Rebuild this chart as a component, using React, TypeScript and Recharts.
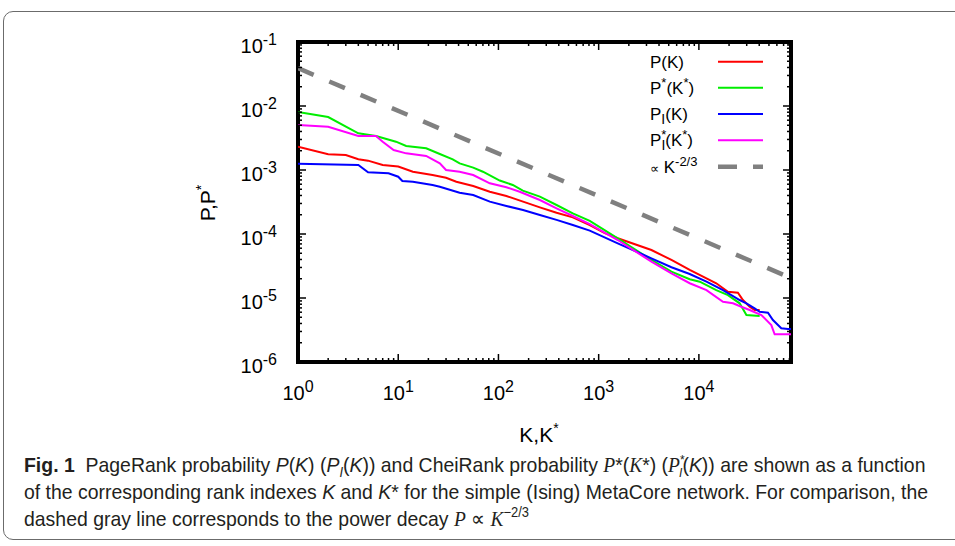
import React, { useLayoutEffect, useRef, useState } from "react"
import { LineChart, Line, XAxis, YAxis, ReferenceArea, Legend } from "recharts"

// P(K), PageRank
const kPageRank = [1, 2, 3, 4, 5, 7, 10, 14, 22, 30, 38, 56, 82, 120, 176, 259, 380, 552, 815, 1150, 1550, 3360, 5320, 8100, 11000, 14900, 19500, 24500, 27500, 32100, 36000, 40400]
const pPageRank = [0.00231, 0.00176, 0.00171, 0.00147, 0.0014, 0.0012, 0.00113, 0.00094, 0.000835, 0.000758, 0.000657, 0.000562, 0.000458, 0.000393, 0.00032, 0.000261, 0.000215, 0.000182, 0.000138, 0.000103, 8.57e-5, 5.62e-5, 3.93e-5, 2.74e-5, 2.15e-5, 1.7e-5, 1.25e-5, 1.21e-5, 9.3e-6, 7.31e-6, 6.49e-6, 6.49e-6]

// P*(K*), CheiRank
const kCheiRank = [1, 2, 4, 6, 9.5, 12, 19, 26, 35, 41, 56, 70, 103, 139, 175, 259, 380, 552, 815, 1550, 3360, 5320, 8100, 10200, 14900, 19500, 25500, 29800, 40400]
const pCheiRank = [0.00805, 0.00673, 0.00374, 0.0034, 0.00277, 0.00237, 0.00218, 0.00178, 0.00147, 0.00127, 0.00109, 0.00094, 0.000685, 0.000583, 0.000475, 0.000383, 0.000284, 0.00021, 0.00016, 8.57e-5, 3.93e-5, 2.58e-5, 1.96e-5, 1.8e-5, 1.33e-5, 1.11e-5, 8.26e-6, 5.42e-6, 5.23e-6]

// P_I(K)
const kPageRankI = [1, 4, 5, 8, 10, 11, 14, 22, 26, 41, 56, 82, 120, 176, 259, 380, 552, 815, 1550, 3360, 5320, 8100, 11900, 17400, 25500, 29800, 36000, 40400, 48900, 54800, 66400, 77300, 83000]
const pPageRankI = [0.00125, 0.0012, 0.00092, 0.000887, 0.000785, 0.000673, 0.000657, 0.000583, 0.000548, 0.000442, 0.000407, 0.00032, 0.000274, 0.000237, 0.000198, 0.000166, 0.000138, 0.000113, 7.16e-5, 4.17e-5, 3.02e-5, 2.37e-5, 1.8e-5, 1.33e-5, 9.3e-6, 8.26e-6, 6.9e-6, 6.1e-6, 5.89e-6, 4.53e-6, 3.36e-6, 3.28e-6, 3.28e-6]

// P*_I(K*)
const kCheiRankI = [1, 2, 4, 6, 7, 9, 12, 19, 26, 30, 41, 56, 82, 120, 163, 259, 380, 552, 815, 1550, 3360, 5320, 8100, 11900, 17400, 21900, 26500, 32100, 42000, 52800, 57000, 83000]
const pCheiRankI = [0.00505, 0.00475, 0.0034, 0.0034, 0.00277, 0.00205, 0.00182, 0.00166, 0.00127, 0.001, 0.00094, 0.000835, 0.00062, 0.000537, 0.000458, 0.00034, 0.000252, 0.000191, 0.000143, 8.05e-5, 3.69e-5, 2.43e-5, 1.7e-5, 1.33e-5, 8.75e-6, 8.26e-6, 7.31e-6, 6.49e-6, 5.42e-6, 3.78e-6, 2.71e-6, 2.71e-6]

// ~ K^-2/3 guide line
const kGuide = [1, 83000]
const pGuide = [0.039, 2.05e-5]

const xDecades = [1, 10, 100, 1000, 10000]
const xExponents = ["0", "1", "2", "3", "4"]
const yDecades = [1e-6, 1e-5, 1e-4, 1e-3, 1e-2, 1e-1]
const yExponents = ["-6", "-5", "-4", "-3", "-2", "-1"]
const minorSteps = [2, 3, 4, 5, 6, 7, 8, 9]

const X_MAX = 83000
const Y_MIN = 1e-6
const Y_MAX = 0.1

const RED = "#ff0000"
const GREEN = "#00ee00"
const BLUE = "#0000ff"
const MAGENTA = "#ff00ff"
const GRAY = "#808080"

const FONT = "'Liberation Sans', Arial, Helvetica, sans-serif"
const SERIF = "'Liberation Serif', 'Times New Roman', serif"

const CHART_W = 955
const CHART_H = 460
const PLOT_LEFT = 298
const PLOT_TOP = 42
const PLOT_W = 493
const PLOT_H = 320
const Y_AXIS_W = 60
const X_AXIS_H = 40

const toPoints = (ks: number[], ps: number[]) => ks.map((k, i) => ({ k, p: ps[i] }))

const xTicks = xDecades.flatMap((d) => [d, ...minorSteps.map((m) => m * d)]).filter((v) => v <= X_MAX)
const yTicks = yDecades.flatMap((d) => (d === Y_MAX ? [d] : [d, ...minorSteps.map((m) => m * d)]))

// eslint-disable-next-line @typescript-eslint/no-explicit-any
const XTick = ({ x, y, payload }: any) => {
  const idx = xDecades.indexOf(payload.value)
  const len = idx >= 0 ? 8 : 4
  return (
    <g>
      <line x1={x} y1={y} x2={x} y2={y - len} stroke="#000" strokeWidth={1.5} />
      <line x1={x} y1={y - PLOT_H} x2={x} y2={y - PLOT_H + len} stroke="#000" strokeWidth={1.5} />
      {idx >= 0 && (
        <text x={x} y={y + 38} textAnchor="middle" fontSize={20} fontFamily={FONT} fill="#000">
          10<tspan dy={-8} fontSize={16}>{xExponents[idx]}</tspan>
        </text>
      )}
    </g>
  )
}

// eslint-disable-next-line @typescript-eslint/no-explicit-any
const YTick = ({ x, y, payload }: any) => {
  const idx = yDecades.indexOf(payload.value)
  const len = idx >= 0 ? 8 : 4
  return (
    <g>
      <line x1={x} y1={y} x2={x + len} y2={y} stroke="#000" strokeWidth={1.5} />
      <line x1={x + PLOT_W} y1={y} x2={x + PLOT_W - len} y2={y} stroke="#000" strokeWidth={1.5} />
      {idx >= 0 && (
        <text x={x - 21} y={y + 11} textAnchor="end" fontSize={20} fontFamily={FONT} fill="#000">
          10<tspan dy={-8} fontSize={16}>{yExponents[idx]}</tspan>
        </text>
      )}
    </g>
  )
}

const XTitle = () => (
  <text x={539} y={442} textAnchor="middle" fontSize={21} fontFamily={FONT} fill="#000">
    K,K<tspan dy={-9} fontSize={14}>*</tspan>
  </text>
)

const YTitle = () => (
  <text x={215} y={203} transform="rotate(-90 215 203)" textAnchor="middle" fontSize={21} fontFamily={FONT} fill="#000">
    P,P<tspan dy={-9} fontSize={14}>*</tspan>
  </text>
)

const legendRows = [
  {
    color: RED, dash: undefined,
    label: <>P(K)</>,
  },
  {
    color: GREEN, dash: undefined,
    label: <>P<tspan dy={-7} fontSize={13}>*</tspan><tspan dy={7}>(K</tspan><tspan dy={-7} fontSize={13}>*</tspan><tspan dy={7}>)</tspan></>,
  },
  {
    color: BLUE, dash: undefined,
    label: <>P<tspan dy={4} fontSize={14}>I</tspan><tspan dy={-4}>(K)</tspan></>,
  },
  {
    color: MAGENTA, dash: undefined,
    label: <>P<tspan dy={-7} fontSize={13}>*</tspan><tspan dx={-5} dy={11} fontSize={14}>I</tspan><tspan dy={-4}>(K</tspan><tspan dy={-7} fontSize={13}>*</tspan><tspan dy={7}>)</tspan></>,
  },
  {
    color: GRAY, dash: "19 16",
    label: <><tspan fontSize={13}>∝</tspan> K<tspan dy={-7} fontSize={13}>-2/3</tspan></>,
  },
]
const legendRowY = [21.7, 47.7, 74, 100.3, 126.7]

const renderLegend = () => (
  <svg width={150} height={140} style={{ overflow: "visible", display: "block" }}>
    {legendRows.map((r, i) => (
      <g key={i}>
        <text x={10} y={legendRowY[i] + 6} fontSize={17} fontFamily={FONT} fill="#000">{r.label}</text>
        <line
          x1={78} x2={123} y1={legendRowY[i]} y2={legendRowY[i]}
          stroke={r.color} strokeWidth={r.dash ? 4.5 : 2} strokeDasharray={r.dash}
        />
      </g>
    ))}
  </svg>
)

const sup = (size: number, rise: number): React.CSSProperties => ({
  fontSize: size, position: "relative", top: -rise, lineHeight: 0, verticalAlign: "baseline",
})
const sub = (size: number, drop: number): React.CSSProperties => ({
  fontSize: size, position: "relative", top: drop, lineHeight: 0, verticalAlign: "baseline",
})
const mathI: React.CSSProperties = { fontFamily: SERIF, fontStyle: "italic" }

const Caption = () => {
  const lineRef = useRef<HTMLDivElement>(null)
  const [scale, setScale] = useState(1)
  useLayoutEffect(() => {
    const w = lineRef.current?.offsetWidth
    if (w) setScale(904 / w)
  }, [])
  const line: React.CSSProperties = { width: "max-content", height: 27 }
  return (
    <div
      style={{
        position: "absolute", left: 24, top: 451, fontSize: 21, lineHeight: "27px", color: "#231f20",
        fontFamily: FONT, whiteSpace: "nowrap", transformOrigin: "0 0", transform: `scaleX(${scale})`,
      }}
    >
      <div style={line}>
        <b>Fig. 1</b>&nbsp; PageRank probability <i>P</i>(<i>K</i>) (<i>P<span style={sub(14, 5)}>I</span></i>(<i>K</i>)) and CheiRank probability <span style={mathI}>P</span>*(<span style={mathI}>K</span>*) (<span style={mathI}>P</span><span style={sup(13, 8)}>*</span><span style={{ ...sub(13, 5), marginLeft: -6, fontStyle: "italic" }}>I</span>(<i>K</i>)) are shown as a function
      </div>
      <div style={line} ref={lineRef}>
        of the corresponding rank indexes <i>K</i> and <i>K</i>* for the simple (Ising) MetaCore network. For comparison, the
      </div>
      <div style={line}>
        dashed gray line corresponds to the power decay <span style={mathI}>P</span> ∝ <span style={mathI}>K</span><span style={sup(14, 9)}>−2/3</span>
      </div>
    </div>
  )
}

export default function App() {
  return (
    <div style={{ position: "absolute", left: 0, top: 0, width: 955, height: 546, overflow: "hidden", background: "#fff" }}>
      <div
        style={{
          position: "absolute", left: 3, top: 11, width: 1000, height: 527,
          border: "1.5px solid #6b6b6b", borderRadius: 10,
        }}
      />
      <div style={{ position: "absolute", left: 0, top: 0 }}>
        <LineChart
          width={CHART_W}
          height={CHART_H}
          margin={{
            top: PLOT_TOP,
            right: CHART_W - PLOT_LEFT - PLOT_W,
            left: PLOT_LEFT - Y_AXIS_W,
            bottom: CHART_H - PLOT_TOP - PLOT_H - X_AXIS_H,
          }}
        >
          <XAxis
            dataKey="k" type="number" scale="log" domain={[1, X_MAX]} allowDataOverflow
            ticks={xTicks} interval={0} tick={(p) => <XTick {...p} />}
            tickLine={false} axisLine={false} tickSize={0} tickMargin={0} height={X_AXIS_H}
            label={<XTitle />}
          />
          <YAxis
            type="number" scale="log" domain={[Y_MIN, Y_MAX]} allowDataOverflow
            ticks={yTicks} interval={0} tick={(p) => <YTick {...p} />}
            tickLine={false} axisLine={false} tickSize={0} tickMargin={0} width={Y_AXIS_W}
            label={<YTitle />}
          />
          <Legend
            layout="vertical" align="center" verticalAlign="middle"
            content={renderLegend}
            wrapperStyle={{ left: 640, top: 40, width: 150, height: 140 }}
          />
          <Line data={toPoints(kPageRank, pPageRank)} dataKey="p" name="P(K)" type="linear"
            stroke={RED} strokeWidth={2} dot={false} activeDot={false} isAnimationActive={false} />
          <Line data={toPoints(kCheiRank, pCheiRank)} dataKey="p" name="P*(K*)" type="linear"
            stroke={GREEN} strokeWidth={2} dot={false} activeDot={false} isAnimationActive={false} />
          <Line data={toPoints(kPageRankI, pPageRankI)} dataKey="p" name="P_I(K)" type="linear"
            stroke={BLUE} strokeWidth={2} dot={false} activeDot={false} isAnimationActive={false} />
          <Line data={toPoints(kCheiRankI, pCheiRankI)} dataKey="p" name="P*_I(K*)" type="linear"
            stroke={MAGENTA} strokeWidth={2} dot={false} activeDot={false} isAnimationActive={false} />
          <Line data={toPoints(kGuide, pGuide)} dataKey="p" name="K^-2/3" type="linear"
            stroke={GRAY} strokeWidth={4.5} strokeDasharray="17 17" dot={false} activeDot={false} isAnimationActive={false} />
          <ReferenceArea
            x1={1} x2={X_MAX} y1={Y_MIN} y2={Y_MAX} ifOverflow="visible"
            fill="none" fillOpacity={0} stroke="#000" strokeWidth={4}
          />
        </LineChart>
      </div>
      <Caption />
    </div>
  )
}
